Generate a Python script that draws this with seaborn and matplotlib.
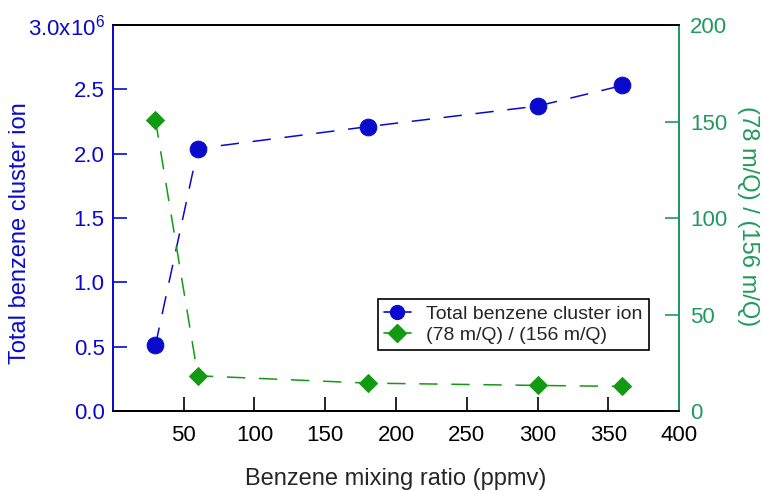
import pandas as pd
import matplotlib
matplotlib.use('Agg')
import matplotlib.pyplot as plt
import seaborn as sns
from matplotlib.lines import Line2D
from matplotlib.ticker import FixedLocator, FuncFormatter

# Data
mixing_ratio = [30, 60, 180, 300, 360]
cluster_ion = [0.51e6, 2.04e6, 2.21e6, 2.37e6, 2.53e6]
ratio_78_156 = [151, 18.3, 14.5, 13.3, 12.8]

blue = '#0a0acc'
green = '#139a13'
axis_green = '#1f9a5c'

sns.set_style('ticks')
plt.rcParams['font.family'] = ['Liberation Sans', 'DejaVu Sans']
plt.rcParams['mathtext.default'] = 'regular'

df = pd.DataFrame({'x': mixing_ratio, 'ion': cluster_ion, 'ratio': ratio_78_156})

fig = plt.figure(figsize=(7.63, 4.90), dpi=100)
ax = fig.add_axes([0.148, 0.161, 0.742, 0.788])
ax2 = ax.twinx()

sns.lineplot(data=df, x='x', y='ion', ax=ax, color=blue, marker='o', markersize=12,
             markeredgecolor=blue, linewidth=1.1, zorder=3)
ax.lines[0].set_dashes([12, 9])
sns.lineplot(data=df, x='x', y='ratio', ax=ax2, color=green, marker='D', markersize=9,
             markeredgecolor=green, linewidth=1.1, zorder=3)
ax2.lines[0].set_dashes([12, 9])

ax.set_xlim(0, 400)
ax.set_ylim(0, 3.0e6)
ax2.set_ylim(0, 200)

ax.xaxis.set_major_locator(FixedLocator([50, 100, 150, 200, 250, 300, 350, 400]))
ax.yaxis.set_major_locator(FixedLocator([0, 0.5e6, 1.0e6, 1.5e6, 2.0e6, 2.5e6, 3.0e6]))
ax.yaxis.set_major_formatter(FuncFormatter(
    lambda v, p: r'3.0x10$^{6}$' if v >= 3.0e6 else f'{v / 1e6:.1f}'))
ax2.yaxis.set_major_locator(FixedLocator([0, 50, 100, 150, 200]))

ax.tick_params(axis='x', direction='in', length=10, width=1.2, labelsize=16, colors='black', pad=10)
ax.tick_params(axis='y', direction='in', length=10, width=1.2, labelsize=16, colors=blue, pad=6)
ax2.tick_params(axis='y', direction='in', length=10, width=1.2, labelsize=16, colors=axis_green, pad=8)

for a in (ax, ax2):
    for s in a.spines.values():
        s.set_linewidth(1.3)
        s.set_visible(True)
    a.spines['top'].set_color('black')
    a.spines['bottom'].set_color('black')
    a.spines['left'].set_color(blue)
    a.spines['right'].set_color(axis_green)

ax.set_xlabel('Benzene mixing ratio (ppmv)', fontsize=17, labelpad=16)
ax.set_ylabel('Total benzene cluster ion', fontsize=17, color=blue, va='center')
ax.yaxis.set_label_coords(-0.164, 0.46)
ax2.set_ylabel('(78 m/Q) / (156 m/Q)', fontsize=17, color=axis_green, rotation=270,
               va='center')
ax2.yaxis.set_label_coords(1.122, 0.505)

handles = [
    Line2D([], [], color=blue, marker='o', markersize=10, linewidth=1.2),
    Line2D([], [], color=green, marker='D', markersize=9, linewidth=1.2),
]
leg = ax2.legend(handles, ['Total benzene cluster ion', '(78 m/Q) / (156 m/Q)'],
                 loc='upper left', bbox_to_anchor=(0.468, 0.29), fontsize=14,
                 frameon=True, fancybox=False, framealpha=1, edgecolor='black',
                 handlelength=1.4, handletextpad=0.8, borderpad=0.3, labelspacing=0.2,
                 borderaxespad=0)
leg.get_frame().set_linewidth(1.2)

fig.savefig('out.png', dpi=100)
